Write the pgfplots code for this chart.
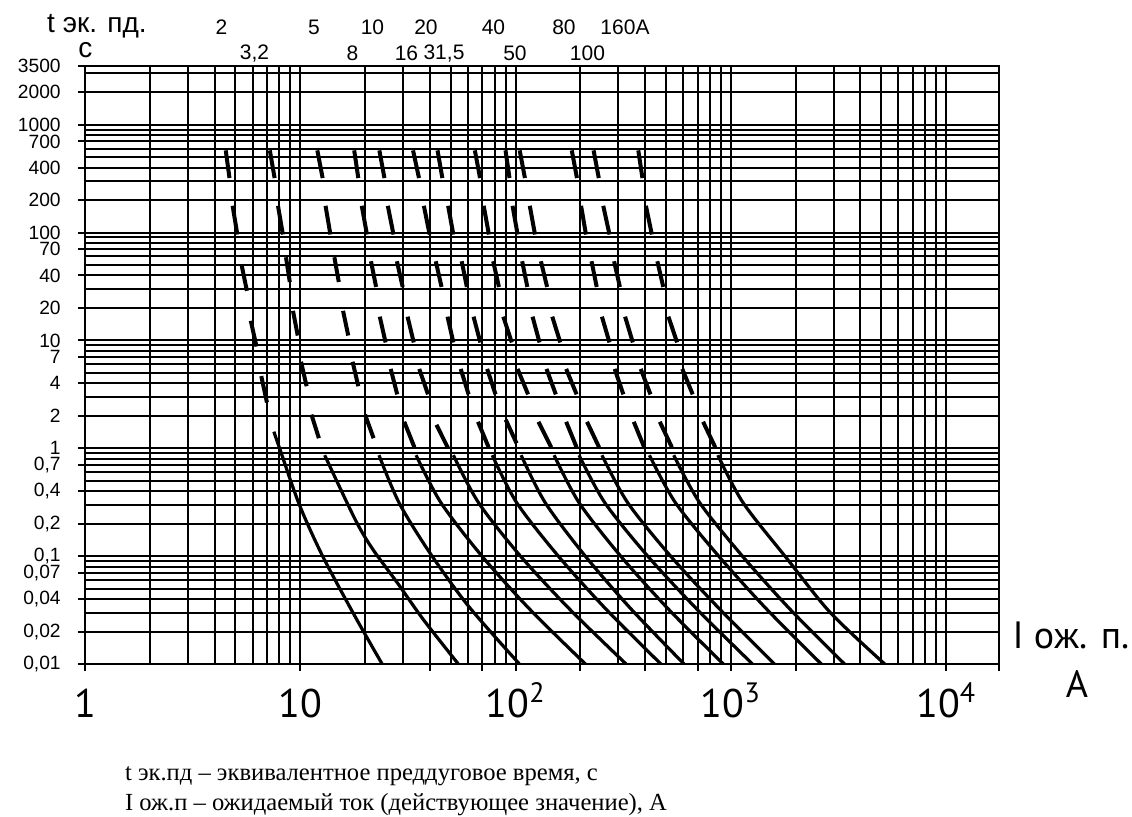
\documentclass[border=0pt]{standalone}
\usepackage{fontspec}
\setmainfont{Liberation Sans}
\newfontfamily\serif{Liberation Serif}
\newfontfamily\myriad{PT Sans}
\usepackage{pgfplots}
\pgfplotsset{compat=1.18}

% dashed part of each characteristic, one dash per pair of points
\pgfplotsset{
  dsh/.style={black, line width=2pt, line cap=butt, unbounded coords=jump},
  sld/.style={black, line width=1.6pt, smooth},
}

\begin{document}
\begin{tikzpicture}
\useasboundingbox (-42.5pt,-76pt) rectangle (523.5pt,332pt);
\begin{axis}[
  at={(0pt,0pt)}, anchor=south west,
  scale only axis, width=457pt, height=299pt,
  xmode=log, ymode=log,
  xmin=1, xmax=17600, ymin=0.01, ymax=3500,
  axis line style={black, line width=1pt},
  xmajorgrids, ymajorgrids, xminorgrids, yminorgrids,
  major grid style={black, line width=1pt},
  minor grid style={black, line width=1pt},
  tick align=outside, tick pos=left,
  major tick length=3.5pt, minor tick length=0pt,
  tick style={black, line width=1pt},
  xtick={1,10,100,1000,10000},
  xticklabels={1,10,10\textsuperscript{2},10\textsuperscript{3},10\textsuperscript{4}},
  minor xtick={2,3,4,5,6,7,8,9,20,30,40,50,60,70,80,90,200,300,400,500,600,700,800,900,2000,3000,4000,5000,6000,7000,8000,9000},
  extra x ticks={40,70,200,400,700,2000,17600},
  extra x tick labels={},
  extra x tick style={grid=none},
  ytick={0.01,0.02,0.04,0.07,0.1,0.2,0.4,0.7,1,2,4,7,10,20,40,70,100,200,400,700,1000,2000,3500},
  yticklabels={{0,01},{0,02},{0,04},{0,07},{0,1},{0,2},{0,4},{0,7},1,2,4,7,10,20,40,70,100,200,400,700,1000,2000,3500},
  minor ytick={0.03,0.05,0.06,0.08,0.09,0.3,0.5,0.6,0.8,0.9,3,5,6,8,9,30,50,60,80,90,300,500,600,800,900,3000},
  xticklabel style={font=\myriad\fontsize{20}{24}\selectfont, anchor=north, text height=15.5pt, text depth=0pt, yshift=-4pt},
  yticklabel style={font=\fontsize{9.6}{11}\selectfont, anchor=east, inner sep=0pt, xshift=-8.5pt},
]
% 2 A
\addplot[dsh] coordinates {(4.505,578) (4.69,320) (nan,nan) (4.85,177) (5.10,95.9) (nan,nan)
  (5.33,50.8) (5.65,28.8) (nan,nan) (5.89,15.2) (6.26,8.78) (nan,nan) (6.59,4.67) (7.00,2.66)};
\addplot[sld] coordinates {(7.54,1.425) (8.07,0.96) (9.90,0.30) (12.7,0.1) (17.98,0.0275) (24.0,0.01)};
% 3,2 A
\addplot[dsh] coordinates {(7.22,578) (7.60,320) (nan,nan) (7.88,177) (8.30,95.9) (nan,nan)
  (8.58,59.0) (8.94,34.8) (nan,nan) (9.25,18.8) (9.73,11.1) (nan,nan) (10.08,6.34) (10.7,3.76) (nan,nan)
  (11.27,2.05) (12.2,1.24)};
\addplot[sld] coordinates {(12.98,0.863) (18.0,0.218) (21.7,0.116) (28.2,0.0568) (37.3,0.0258) (54.2,0.01)};
% 5 A
\addplot[dsh] coordinates {(12.0,578) (12.7,320) (nan,nan) (13.1,177) (13.8,95.9) (nan,nan)
  (14.4,59.0) (15.1,34.8) (nan,nan) (15.8,18.8) (16.7,11.1) (nan,nan) (17.5,6.34) (18.6,3.76) (nan,nan)
  (20.0,2.05) (21.9,1.24)};
\addplot[sld] coordinates {(23.2,0.863) (28.8,0.311) (39.9,0.108) (60.5,0.0343) (104.2,0.01)};
% 8 A
\addplot[dsh] coordinates {(17.8,578) (18.6,320) (nan,nan) (19.3,177) (20.4,95.9) (nan,nan)
  (21.3,54.2) (22.5,31.3) (nan,nan) (23.4,16.6) (24.9,9.57) (nan,nan) (26.3,5.44) (28.2,3.16) (nan,nan)
  (30.4,1.76) (33.9,1.02)};
\addplot[sld] coordinates {(34.5,0.863) (45.0,0.313) (69.8,0.1) (116.7,0.032) (211,0.01)};
% 10 A
\addplot[dsh] coordinates {(23.3,578) (24.6,320) (nan,nan) (25.5,177) (27.1,95.9) (nan,nan)
  (28.1,54.2) (29.9,31.3) (nan,nan) (31.5,16.6) (33.65,9.57) (nan,nan) (35.7,5.44) (39.2,3.16) (nan,nan)
  (42.9,1.65) (48.6,1.0)};
\addplot[sld] coordinates {(51.4,0.863) (67.3,0.313) (105.4,0.1) (179,0.032) (326,0.01)};
% 16 A
\addplot[dsh] coordinates {(33.4,578) (35.6,320) (nan,nan) (37.5,177) (39.9,95.9) (nan,nan)
  (42.6,54.2) (45.3,31.3) (nan,nan) (48.3,16.6) (51.4,9.57) (nan,nan) (55.6,5.44) (60.5,3.16) (nan,nan)
  (66.9,1.76) (75.0,1.02)};
\addplot[sld] coordinates {(77.9,0.863) (101.2,0.313) (158,0.1) (264,0.032) (473,0.01)};
% 20 A
\addplot[dsh] coordinates {(43.4,578) (45.7,320) (nan,nan) (48.6,177) (51.4,95.9) (nan,nan)
  (56.2,54.2) (59.4,31.3) (nan,nan) (63.8,16.6) (68.6,9.57) (nan,nan) (73.8,5.44) (80.7,3.16) (nan,nan)
  (90.0,1.84) (101.1,1.11)};
\addplot[sld] coordinates {(106.1,0.863) (137.3,0.313) (210.8,0.1) (345.6,0.032) (606,0.01)};
% 31,5 A
\addplot[dsh] coordinates {(64.7,578) (68.4,320) (nan,nan) (71.1,177) (75.2,95.9) (nan,nan)
  (78.7,54.2) (83.7,31.3) (nan,nan) (87.7,16.6) (96.0,9.57) (nan,nan) (102.2,5.44) (114.3,3.16) (nan,nan)
  (127.7,1.76) (146.5,1.02)};
\addplot[sld] coordinates {(151,0.863) (197.2,0.313) (307.7,0.1) (514.8,0.032) (922,0.01)};
% 40 A
\addplot[dsh] coordinates {(89.8,578) (93.7,320) (nan,nan) (96.8,177) (102.2,95.9) (nan,nan)
  (107.3,54.2) (113.4,31.3) (nan,nan) (119.9,16.6) (129.2,9.57) (nan,nan) (139.2,5.44) (153.8,3.16) (nan,nan)
  (171.8,1.76) (192.1,1.02)};
\addplot[sld] coordinates {(197.2,0.863) (259.7,0.313) (411,0.1) (698,0.032) (1260,0.01)};
% 50 A
\addplot[dsh] coordinates {(104.5,578) (110.5,320) (nan,nan) (116.4,177) (123.1,95.9) (nan,nan)
  (131.1,54.2) (140.1,31.3) (nan,nan) (148.1,16.6) (161.3,9.57) (nan,nan) (171.8,5.44) (192.1,3.16) (nan,nan)
  (214.7,1.76) (244.3,1.02)};
\addplot[sld] coordinates {(251.8,0.863) (331.7,0.313) (525,0.1) (891,0.032) (1594,0.01)};
% 80 A
\addplot[dsh] coordinates {(182.4,578) (192.8,320) (nan,nan) (201.5,177) (212.3,95.9) (nan,nan)
  (225.3,54.2) (238.2,31.3) (nan,nan) (251.8,16.6) (272.9,9.57) (nan,nan) (288.6,5.44) (316.7,3.16) (nan,nan)
  (354,1.76) (396,1.02)};
\addplot[sld] coordinates {(418.5,0.863) (552.7,0.313) (878,0.1) (1472,0.032) (2630,0.01)};
% 100 A
\addplot[dsh] coordinates {(230.3,578) (243.5,320) (nan,nan) (255.4,177) (273.1,95.9) (nan,nan)
  (286.8,54.2) (305.2,31.3) (nan,nan) (322.7,16.6) (350.4,9.57) (nan,nan) (381.3,5.44) (423.3,3.16) (nan,nan)
  (467.7,1.76) (532.2,1.02)};
\addplot[sld] coordinates {(542.5,0.863) (716.4,0.313) (1131.5,0.1) (1888,0.032) (3372,0.01)};
% 160 A
\addplot[dsh] coordinates {(371.5,578) (388.5,320) (nan,nan) (403,177) (429.5,95.9) (nan,nan)
  (455.5,54.2) (485.3,31.3) (nan,nan) (512.9,16.6) (562.4,9.57) (nan,nan) (594.8,5.44) (664.8,3.16) (nan,nan)
  (743,1.76) (846.3,1.02)};
\addplot[sld] coordinates {(870.2,0.863) (1139,0.313) (1830,0.0938) (2904,0.0298) (5182,0.01)};
\end{axis}

% axis captions
\node[anchor=base, inner sep=0pt, font=\fontsize{14}{16}\selectfont] at (6pt,316pt) {t эк. пд.};
\node[inner sep=0pt, font=\fontsize{14}{16}\selectfont] at (0.25pt,307pt) {с};
\node[font=\myriad\fontsize{19}{22}\selectfont] at (493pt,14.5pt) {I ож. п.};
\node[font=\myriad\fontsize{19}{22}\selectfont] at (496pt,-10pt) {А};

% fuse ratings
\begin{scope}[every node/.style={font=\fontsize{10.5}{12}\selectfont}]
\node at (68.25pt,318.25pt) {2};
\node at (114.5pt,318.25pt) {5};
\node at (143.75pt,318.25pt) {10};
\node at (170.5pt,318.25pt) {20};
\node at (204.25pt,318.25pt) {40};
\node at (239.5pt,318.25pt) {80};
\node at (270pt,318.25pt) {160А};
\node at (84.75pt,305.25pt) {3,2};
\node at (133.75pt,305.25pt) {8};
\node at (160.75pt,305.25pt) {16};
\node at (179.5pt,305.25pt) {31,5};
\node at (215pt,305.25pt) {50};
\node at (251.25pt,305.25pt) {100};
\end{scope}

% legend lines below the chart
\node[anchor=base west, font=\serif\fontsize{12.3}{14}\selectfont] at (16.5pt,-58pt)
  {t эк.пд – эквивалентное преддуговое время, с};
\node[anchor=base west, font=\serif\fontsize{12.3}{14}\selectfont] at (16.5pt,-73pt)
  {I ож.п – ожидаемый ток (действующее значение), А};
\end{tikzpicture}
\end{document}
